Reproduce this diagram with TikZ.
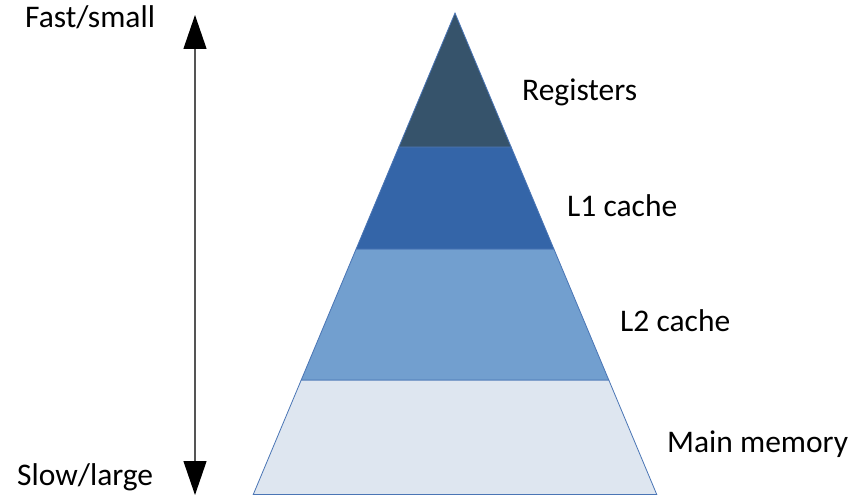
\documentclass[tikz,border=0pt]{standalone}
\usepackage{fontspec}
\setmainfont{Carlito}
\usetikzlibrary{arrows.meta,calc}
\definecolor{regcol}{HTML}{36536B}
\definecolor{lonecol}{HTML}{3465A8}
\definecolor{ltwocol}{HTML}{729FCF}
\definecolor{memcol}{HTML}{DEE6F0}
\definecolor{edgecol}{HTML}{4A75B5}
\definecolor{axiscol}{HTML}{555555}
\tikzset{
  band/.style={draw=edgecol, line width=0.8pt, line join=miter},
  lbl/.style={anchor=base west, inner sep=0pt, font=\fontsize{31.5}{36}\selectfont},
}
\begin{document}
\begin{tikzpicture}[x=1pt, y=-1pt]
\useasboundingbox (0,0) rectangle (867,497);
% pyramid outline points
\coordinate (apex) at (455,13);
\coordinate (baseL) at (253.25,494.5);
\coordinate (baseR) at (656.75,494.5);
% level boundaries along the sides
\coordinate (aL) at ($(apex)!0.2783!(baseL)$);
\coordinate (aR) at ($(apex)!0.2783!(baseR)$);
\coordinate (bL) at ($(apex)!0.4901!(baseL)$);
\coordinate (bR) at ($(apex)!0.4901!(baseR)$);
\coordinate (cL) at ($(apex)!0.7622!(baseL)$);
\coordinate (cR) at ($(apex)!0.7622!(baseR)$);
% levels, bottom to top
\filldraw[band, fill=memcol] (cL) -- (cR) -- (baseR) -- (baseL) -- cycle;
\filldraw[band, fill=ltwocol] (bL) -- (bR) -- (cR) -- (cL) -- cycle;
\filldraw[band, fill=lonecol] (aL) -- (aR) -- (bR) -- (bL) -- cycle;
\filldraw[band, fill=regcol] (apex) -- (aR) -- (aL) -- cycle;
% level labels
\node[lbl] (reg) at (522,101) {Registers};
\node[lbl] (lone) at (567,216) {L1 cache};
\node[lbl] (ltwo) at (620,331) {L2 cache};
\node[lbl] (mem) at (667,452) {Main memory};
% speed / size axis
\coordinate (axTop) at (195,15);
\coordinate (axBot) at (195,495);
\draw[axiscol, line width=1.2pt, {Triangle[length=34pt,width=23pt,black]}-{Triangle[length=34pt,width=23pt,black]}] (axTop) -- (axBot);
\node[lbl] (fast) at (25,28) {Fast/small};
\node[lbl] (slow) at (17,485) {Slow/large};
\end{tikzpicture}
\end{document}
